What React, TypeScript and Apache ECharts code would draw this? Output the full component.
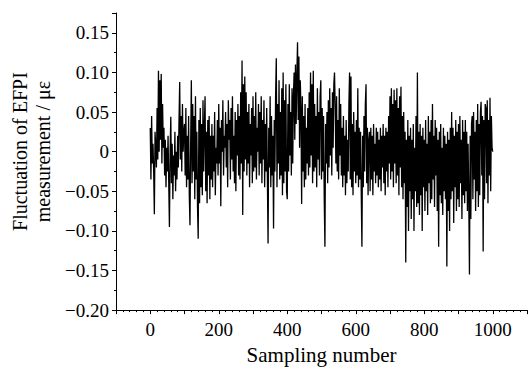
import React, { useEffect, useRef } from "react";
import * as echarts from "echarts";

// Sampling numbers advance by 2 between stored points (0, 2, 4, ... 1000)
const SAMPLE_STEP = 2;

const fluctuationMilli = [
  30, -35, 45, -15, 10, -25, -79, 25, 5, -20,
  55, -10, 102, 0, 90, 15, 98, -15, 60, 5,
  30, -30, 15, -45, 5, -25, 20, -40, -95, 0,
  44, -40, 10, -60, -5, -30, 25, -50, 0, -35,
  20, -20, 40, 88, -10, 45, -25, 60, 0, 25,
  35, -30, 55, -45, 20, -35, 45, -55, -93, 10,
  90, -40, 60, -25, 45, -60, 70, -35, 25, -70,
  -110, 40, -65, 55, -45, 35, -55, 65, -25, 30,
  70, -50, 25, -65, 40, -30, 45, -60, 20, -35,
  35, -45, 20, -25, 50, -55, 5, -15, 40, -30,
  60, -15, 30, -69, 40, 0, 65, -30, 20, 5,
  50, -20, 35, -45, 65, 15, 40, -35, 55, -10,
  70, -25, 20, -40, 50, -50, 40, -5, 60, -30,
  45, -35, 75, -15, 115, -80, 85, -25, 95, -10,
  75, -30, 50, -15, 60, -45, 35, -5, 55, -40,
  70, -25, 45, -20, 75, -35, 30, 0, 60, -30,
  50, -15, 70, -40, 40, -10, 65, -45, 35, -25,
  55, -35, -116, 30, -20, 70, -45, 45, -30, 20,
  -97, 40, -25, 70, 118, -45, 60, -15, 90, -35,
  50, -30, 80, -55, 100, -40, 65, -25, 85, -50,
  -60, 60, -25, 85, -5, 50, -30, 80, -15, 70,
  100, 15, 110, 35, 95, 138, 40, 120, 5, 90,
  55, -66, 70, -25, 45, -45, 60, -35, 30, -15,
  55, -30, 75, -20, 100, -5, 85, -40, 102, -25,
  60, -20, 45, -45, 80, -10, 50, -30, 70, 90,
  -35, 55, -25, 45, -60, -120, 35, -15, 50, -40,
  65, -20, 80, -5, 55, -30, 75, 5, 85, 100,
  55, -15, 70, -25, 40, -35, 80, -5, 60, -30,
  30, -45, 45, -30, 20, -55, 40, -40, 15, -25,
  60, 100, -35, 95, -45, 35, -55, 50, -25, 25,
  -40, 40, -30, 80, -45, 30, -35, 25, -50, -120,
  20, -45, 45, -25, 60, 85, -40, 30, -55, 15,
  25, -50, 30, -35, 20, -55, 35, -25, 10, -40,
  30, -30, 25, -45, 15, -35, 30, -50, 20, -20,
  35, -40, 20, -55, 30, -25, 25, -45, 45, -15,
  70, -35, 80, -25, 60, -45, 78, -15, 65, -40,
  80, -30, 55, -55, 70, -20, 82, -45, 45, -60,
  50, -40, 25, -140, 15, -70, 40, -100, 20, -50,
  30, -85, 15, -60, 35, -100, 5, -50, 45, -70,
  100, -65, 25, -80, 35, -55, 20, -100, 30, -45,
  15, -75, 40, -50, 10, -80, 45, -40, 25, -65,
  40, -60, 60, -35, 20, -70, 40, -30, 30, -75,
  15, -120, 25, -55, 35, -65, 5, -80, 30, -50,
  20, -60, 10, -145, 25, -75, 15, -100, 30, -60,
  50, -50, 30, -90, 20, -45, 40, -75, 25, -60,
  35, -70, 45, -40, 15, -85, 40, -55, 25, -65,
  40, -50, 25, -75, 10, -60, -155, 20, -85, 35,
  45, -60, 50, -35, 25, -75, 40, -50, 60, -70,
  35, -55, 50, 63, -30, 45, -126, 40, -60, 60,
  55, -40, 65, -65, 40, -30, 68, -50, 45, 5,
  0,
];

const xTickLabels = [0, 200, 400, 600, 800, 1000];
const yTickValues = [-0.2, -0.15, -0.1, -0.05, 0, 0.05, 0.1, 0.15];
const xAxisTitle = "Sampling number";
const yAxisTitle = "Fluctuation of EFPI\nmeasurement / με";

const FONT = "Liberation Serif";

export default function App() {
  const ref = useRef<HTMLDivElement>(null);

  useEffect(() => {
    if (!ref.current) return;
    const chart = echarts.init(ref.current, null, { renderer: "svg" });
    const data = fluctuationMilli.map((v, i) => [i * SAMPLE_STEP, v / 1000]);

    const fmtY = (v: number) => {
      const r = Math.round(v * 100) / 100;
      if (!yTickValues.some((t) => Math.abs(t - r) < 1e-9) || Math.abs(r - v) > 1e-9) return "";
      if (Math.abs(r) < 1e-9) return "0";
      const s = Math.abs(r).toFixed(2);
      return r < 0 ? "\u2212" + s : s;
    };

    chart.setOption({
      animation: false,
      backgroundColor: "#ffffff",
      textStyle: { fontFamily: FONT, color: "#000" },
      grid: { left: 116, right: 2, top: 13, bottom: 52, containLabel: false },
      xAxis: {
        type: "value",
        min: -100,
        max: 1100,
        interval: 100,
        name: xAxisTitle,
        nameLocation: "middle",
        nameGap: 31,
        nameTextStyle: { fontFamily: FONT, fontSize: 21, color: "#000" },
        axisLine: { show: true, onZero: false, lineStyle: { color: "#000", width: 1 } },
        axisTick: { show: true, inside: false, length: 4, lineStyle: { color: "#000" } },
        minorTick: { show: true, splitNumber: 5, length: 2, lineStyle: { color: "#000" } },
        splitLine: { show: false },
        axisLabel: {
          interval: 0,
          margin: 10,
          fontFamily: FONT,
          fontSize: 19,
          color: "#000",
          formatter: (v: number) => (xTickLabels.includes(v) ? String(v) : ""),
        },
      },
      yAxis: {
        type: "value",
        min: -0.2,
        max: 0.175,
        interval: 0.05,
        name: yAxisTitle,
        nameLocation: "middle",
        nameGap: 60,
        nameRotate: 90,
        nameTextStyle: {
          fontFamily: FONT,
          fontSize: 20,
          color: "#000",
          lineHeight: 23,
          align: "center",
          padding: [0, 0, 0, 20],
        },
        axisLine: { show: true, onZero: false, lineStyle: { color: "#000", width: 1 } },
        axisTick: { show: true, inside: false, length: 4, lineStyle: { color: "#000" } },
        minorTick: { show: true, splitNumber: 2, length: 2, lineStyle: { color: "#000" } },
        splitLine: { show: false },
        axisLabel: {
          margin: 7,
          showMaxLabel: false,
          fontFamily: FONT,
          fontSize: 19,
          color: "#000",
          formatter: fmtY,
        },
      },
      series: [
        {
          type: "line",
          data,
          symbol: "none",
          lineStyle: { color: "#000", width: 1.3 },
          clip: true,
        },
      ],
    });

    return () => chart.dispose();
  }, []);

  return (
    <div
      ref={ref}
      style={{ position: "fixed", left: 0, top: 0, width: 530, height: 370, background: "#fff" }}
    />
  );
}
